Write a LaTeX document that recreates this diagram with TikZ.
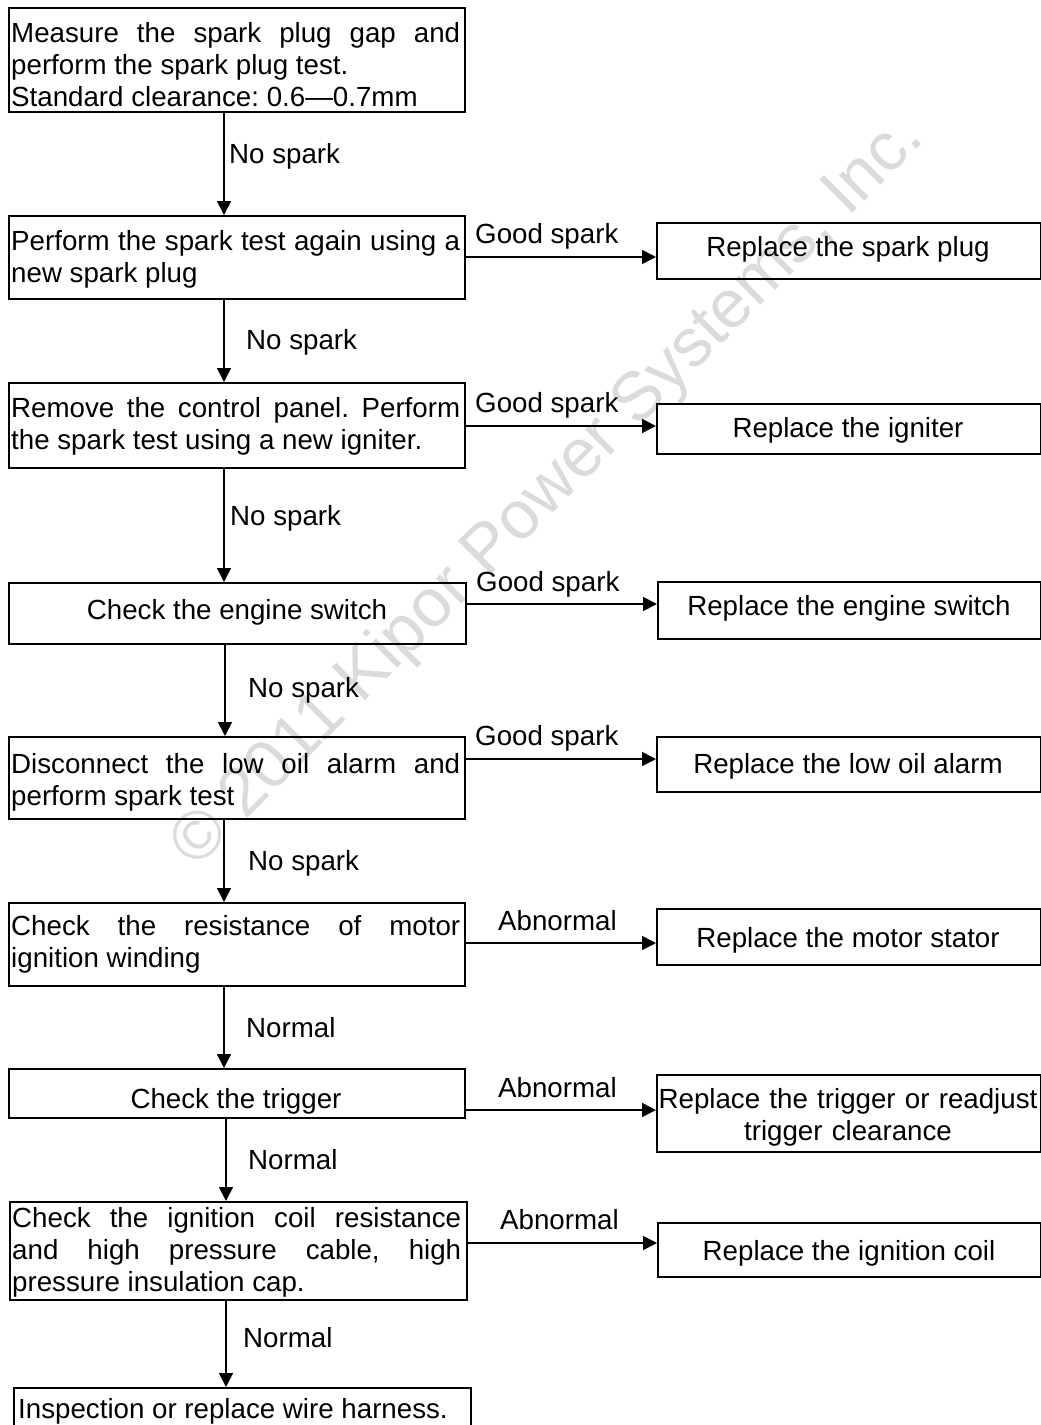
\documentclass[tikz,border=0pt]{standalone}
\usepackage{fontspec}
\setmainfont{Liberation Sans}
\usetikzlibrary{arrows.meta}
\tolerance=10000 \hbadness=10000
\frenchspacing
\begin{document}
\begin{tikzpicture}[x=1pt,y=-1pt,
  every node/.style={font=\fontsize{27.7}{32}\selectfont\frenchspacing, inner sep=0pt},
  box/.style={draw, line width=1.7pt, anchor=north west},
  ljust/.style={text width=449pt, align=justify, anchor=base west},
  lbl/.style={anchor=base west},
  ctr/.style={anchor=base},
  arr/.style={line width=1.7pt, -{Triangle[length=14pt,width=14pt]}},
  wm/.style={text=black!14, font=\fontsize{68}{80}\selectfont}]
\useasboundingbox (0,0) rectangle (1041,1425);
\clip (0,0) rectangle (1041,1425);
\fill[white] (0,0) rectangle (1041,1425);
% watermark
\node[wm, rotate=45, anchor=base east] (wmark) at (926,140) {© 2011 Kipor Power Systems, Inc.};
% left boxes
\node[box, minimum width=456pt, minimum height=104pt] (b1) at (8,7) {};
\node[box, minimum width=456pt, minimum height=83pt] (b2) at (8,215) {};
\node[box, minimum width=456pt, minimum height=85pt] (b3) at (8,382) {};
\node[box, minimum width=457pt, minimum height=61pt] (b4) at (8,582) {};
\node[box, minimum width=456pt, minimum height=82pt] (b5) at (8,736) {};
\node[box, minimum width=456pt, minimum height=83pt] (b6) at (8,902) {};
\node[box, minimum width=456pt, minimum height=49pt] (b7) at (8,1068) {};
\node[box, minimum width=457pt, minimum height=98pt] (b8) at (9,1201) {};
\node[box, minimum width=457pt, minimum height=60pt] (b9) at (13,1387) {};
% right boxes
\node[box, minimum width=384pt, minimum height=56pt] (r1) at (656,222) {};
\node[box, minimum width=384pt, minimum height=50pt] (r2) at (656,403) {};
\node[box, minimum width=383pt, minimum height=57pt] (r3) at (657,581) {};
\node[box, minimum width=384pt, minimum height=55pt] (r4) at (656,736) {};
\node[box, minimum width=384pt, minimum height=56pt] (r5) at (656,908) {};
\node[box, minimum width=384pt, minimum height=77pt] (r6) at (656,1074) {};
\node[box, minimum width=383pt, minimum height=54pt] (r7) at (657,1222) {};
% left texts
\node[ljust] (t1) at (11,42) {Measure the spark plug gap and\linebreak perform the spark plug test.\newline Standard clearance: 0.6—0.7mm};
\node[ljust] (t2) at (11,250) {Perform the spark test again using a\linebreak new spark plug};
\node[ljust] (t3) at (11,417) {Remove the control panel. Perform\linebreak the spark test using a new igniter.};
\node[ctr] (t4) at (237,619) {Check the engine switch};
\node[ljust] (t5) at (11,773) {Disconnect the low oil alarm and\linebreak perform spark test};
\node[ljust] (t6) at (11,935) {Check the resistance of motor\linebreak ignition winding};
\node[ctr] (t7) at (236,1108) {Check the trigger};
\node[ljust] (t8) at (12,1227) {Check the ignition coil resistance\linebreak and high pressure cable, high\linebreak pressure insulation cap.};
\node[lbl] (t9) at (18,1418) {Inspection or replace wire harness.};
% right texts
\node[ctr] (s1) at (848,256) {Replace the spark plug};
\node[ctr] (s2) at (848,437) {Replace the igniter};
\node[ctr] (s3) at (849,615) {Replace the engine switch};
\node[ctr] (s4) at (848,773) {Replace the low oil alarm};
\node[ctr] (s5) at (848,947) {Replace the motor stator};
\node[ctr, text width=384pt, align=center] (s6) at (848,1108) {Replace the trigger or readjust\\trigger clearance};
\node[ctr] (s7) at (849,1260) {Replace the ignition coil};
% coordinates for connectors
\coordinate (v1) at (224,0);
\coordinate (v2) at (224,0);
\coordinate (v3) at (224,0);
\coordinate (v4) at (225,0);
\coordinate (v5) at (224,0);
\coordinate (v6) at (224,0);
\coordinate (v7) at (226,0);
\coordinate (v8) at (226,0);
\coordinate (h1) at (0,257);
\coordinate (h2) at (0,426);
\coordinate (h3) at (0,604);
\coordinate (h4) at (0,759);
\coordinate (h5) at (0,943);
\coordinate (h6) at (0,1110);
\coordinate (h7) at (0,1243);
% vertical connectors
\draw[arr] (b1.south -| v1) -- (b2.north -| v1);
\draw[arr] (b2.south -| v2) -- (b3.north -| v2);
\draw[arr] (b3.south -| v3) -- (b4.north -| v3);
\draw[arr] (b4.south -| v4) -- (b5.north -| v4);
\draw[arr] (b5.south -| v5) -- (b6.north -| v5);
\draw[arr] (b6.south -| v6) -- (b7.north -| v6);
\draw[arr] (b7.south -| v7) -- (b8.north -| v7);
\draw[arr] (b8.south -| v8) -- (b9.north -| v8);
% horizontal connectors
\draw[arr] (b2.east |- h1) -- (r1.west |- h1);
\draw[arr] (b3.east |- h2) -- (r2.west |- h2);
\draw[arr] (b4.east |- h3) -- (r3.west |- h3);
\draw[arr] (b5.east |- h4) -- (r4.west |- h4);
\draw[arr] (b6.east |- h5) -- (r5.west |- h5);
\draw[arr] (b7.east |- h6) -- (r6.west |- h6);
\draw[arr] (b8.east |- h7) -- (r7.west |- h7);
% labels
\node[lbl] (l1) at (229,163) {No spark};
\node[lbl] (l2) at (246,349) {No spark};
\node[lbl] (l3) at (230,525) {No spark};
\node[lbl] (l4) at (248,697) {No spark};
\node[lbl] (l5) at (248,870) {No spark};
\node[lbl] (l6) at (246,1037) {Normal};
\node[lbl] (l7) at (248,1169) {Normal};
\node[lbl] (l8) at (243,1347) {Normal};
\node[lbl] (g1) at (475,243) {Good spark};
\node[lbl] (g2) at (475,412) {Good spark};
\node[lbl] (g3) at (476,591) {Good spark};
\node[lbl] (g4) at (475,745) {Good spark};
\node[lbl] (a1) at (498,930) {Abnormal};
\node[lbl] (a2) at (498,1097) {Abnormal};
\node[lbl] (a3) at (500,1229) {Abnormal};
\end{tikzpicture}
\end{document}
